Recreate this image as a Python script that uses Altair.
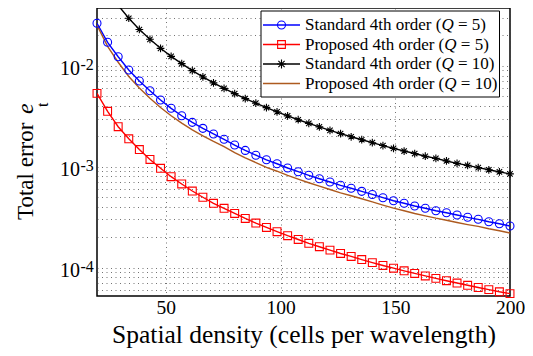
import altair as alt
import pandas as pd

# ---------------- data ----------------
x_vals = [20.00, 24.62, 29.23, 33.85, 38.46, 43.08, 47.69, 52.31, 56.92, 61.54,
          66.15, 70.77, 75.38, 80.00, 84.62, 89.23, 93.85, 98.46, 103.08, 107.69,
          112.31, 116.92, 121.54, 126.15, 130.77, 135.38, 140.00, 144.62, 149.23, 153.85,
          158.46, 163.08, 167.69, 172.31, 176.92, 181.54, 186.15, 190.77, 195.38, 200.00]

std_q5 = [0.0264, 0.0171, 0.0123, 0.00908, 0.00706, 0.00566, 0.00458, 0.00379, 0.00320, 0.00275,
          0.00240, 0.00211, 0.00187, 0.00164, 0.00145, 0.00130, 0.00117, 0.00107, 0.000971, 0.000892,
          0.000822, 0.000760, 0.000705, 0.000654, 0.000611, 0.000570, 0.000531, 0.000493, 0.000460, 0.000434,
          0.000408, 0.000387, 0.000366, 0.000350, 0.000332, 0.000315, 0.000301, 0.000285, 0.000272, 0.000258]

prop_q5 = [0.00533, 0.00354, 0.00249, 0.00189, 0.00148, 0.00118, 0.000964, 0.000796, 0.000674, 0.000574,
           0.000498, 0.000434, 0.000387, 0.000344, 0.000307, 0.000276, 0.000250, 0.000227, 0.000207, 0.000190,
           0.000174, 0.000161, 0.000149, 0.000138, 0.000129, 0.000120, 0.000112, 0.000105, 0.0000987, 0.0000929,
           0.0000876, 0.0000827, 0.0000782, 0.0000741, 0.0000703, 0.0000668, 0.0000635, 0.0000605, 0.0000576, 0.0000552]

std_q10 = [0.0848, 0.0559, 0.0397, 0.0296, 0.0229, 0.0183, 0.0149, 0.0124, 0.0105, 0.00895,
           0.00775, 0.00677, 0.00597, 0.00530, 0.00473, 0.00426, 0.00385, 0.00350, 0.00319, 0.00292,
           0.00269, 0.00248, 0.00229, 0.00213, 0.00198, 0.00185, 0.00173, 0.00162, 0.00152, 0.00143,
           0.00135, 0.00127, 0.00121, 0.00114, 0.00108, 0.00103, 0.000978, 0.000932, 0.000888, 0.000848]

prop_q10 = [0.0252, 0.0156, 0.01085, 0.00783, 0.00602, 0.00477, 0.00386, 0.00320, 0.00270, 0.00232,
            0.00202, 0.00178, 0.00158, 0.00138, 0.00122, 0.00110, 0.000986, 0.000902, 0.000819, 0.000752,
            0.000693, 0.000641, 0.000594, 0.000551, 0.000515, 0.000481, 0.000448, 0.000416, 0.000388, 0.000366,
            0.000344, 0.000326, 0.000309, 0.000295, 0.000280, 0.000267, 0.000256, 0.000243, 0.000232, 0.000220]

series_keys = ["std5", "prop5", "std10", "prop10"]
series_colors = ["#0000FF", "#FF0000", "#000000", "#AD5A1F"]
legend_pre = ["Standard 4th order (", "Proposed 4th order (", "Standard 4th order (", "Proposed 4th order ("]
legend_post = ["= 5)", "= 5)", "= 10)", "= 10)"]

x_tick_values = [50, 100, 150, 200]
y_grid_values = [6e-5, 7e-5, 8e-5, 9e-5,
                 1e-4, 2e-4, 3e-4, 4e-4, 5e-4, 6e-4, 7e-4, 8e-4, 9e-4,
                 1e-3, 2e-3, 3e-3, 4e-3, 5e-3, 6e-3, 7e-3, 8e-3, 9e-3,
                 1e-2, 2e-2, 3e-2]
y_label_values = [1e-2, 1e-3, 1e-4]
y_label_exps = ["-2", "-3", "-4"]

# ---------------- build ----------------
FONT = "Liberation Serif"
Y_MIN, Y_MAX = 5.23e-5, 0.0374
STAR = "M-1,0L1,0M0,-1L0,1M-0.7,-0.7L0.7,0.7M-0.7,0.7L0.7,-0.7"
MARKERS = ["circle", "square", STAR]
MARKER_SIZES = [64, 60, 80]

rows = []
for key, vals in zip(series_keys, [std_q5, prop_q5, std_q10, prop_q10]):
    for xv, yv in zip(x_vals, vals):
        rows.append({"x": xv, "y": yv, "s": key})
df = pd.DataFrame(rows)

grid_kw = dict(grid=True, gridColor="#444444", gridDash=[1, 3.5], gridWidth=1, gridOpacity=0.75)

x_axis = alt.Axis(values=x_tick_values, ticks=False, domain=False, labelFont=FONT,
                  labelFontSize=19.5, labelColor="black", labelPadding=2, labelFlush=False,
                  labelOverlap=False,
                  title="Spatial density (cells per wavelength)", titleFont=FONT,
                  titleFontSize=25.5, titleFontWeight="normal", titleColor="black",
                  titleX=206.5, titleY=46.5, titleBaseline="alphabetic", **grid_kw)
y_axis = alt.Axis(values=y_grid_values, labels=False, ticks=False, domain=False, title="", **grid_kw)

x_scale = alt.Scale(domain=[20, 200], nice=False, zero=False)
y_scale = alt.Scale(type="log", domain=[Y_MIN, Y_MAX], nice=False)
color_scale = alt.Scale(domain=series_keys, range=series_colors)

def xe():
    return alt.X("x:Q", scale=x_scale, axis=x_axis)

def ye(field="y"):
    return alt.Y(f"{field}:Q", scale=y_scale, axis=y_axis)

lines = alt.Chart(df).mark_line(clip=True, strokeWidth=1.4).encode(
    x=xe(), y=ye(),
    color=alt.Color("s:N", scale=color_scale, legend=None),
    detail="s:N")

points = alt.Chart(df).transform_filter(
    f"datum.s != 'prop10' && datum.y <= {Y_MAX}"
).mark_point(filled=False, strokeWidth=1.1, opacity=1).encode(
    x=xe(), y=ye(),
    color=alt.Color("s:N", scale=color_scale, legend=None),
    shape=alt.Shape("s:N", scale=alt.Scale(domain=series_keys[:3], range=MARKERS), legend=None),
    size=alt.Size("s:N", scale=alt.Scale(domain=series_keys[:3], range=MARKER_SIZES), legend=None))

ylab_df = pd.DataFrame({"v": y_label_values, "base": ["10"] * 3, "exp": y_label_exps})
ylab_base = alt.Chart(ylab_df).mark_text(align="right", baseline="alphabetic", dy=9, font=FONT,
                                         fontSize=20, color="black").encode(
    x=alt.value(-17), y=ye("v"), text="base:N")
ylab_exp = alt.Chart(ylab_df).mark_text(align="left", baseline="alphabetic", dy=4, font=FONT,
                                        fontSize=16, color="black").encode(
    x=alt.value(-16.5), y=ye("v"), text="exp:N")

dummy = pd.DataFrame({"d": [0]})

ytitle = [
    alt.Chart(dummy).mark_text(text="Total error", angle=270, align="left", baseline="alphabetic",
                               font=FONT, fontSize=23, color="black").encode(
        x=alt.value(-63.7), y=alt.value(212)),
    alt.Chart(dummy).mark_text(text="e", angle=270, align="left", baseline="alphabetic",
                               font=FONT, fontSize=24, fontStyle="italic", color="black").encode(
        x=alt.value(-63.7), y=alt.value(106)),
    alt.Chart(dummy).mark_text(text="t", angle=270, align="left", baseline="alphabetic",
                               font=FONT, fontSize=16, color="black").encode(
        x=alt.value(-49.5), y=alt.value(99)),
]

# ---------------- manual legend ----------------
W = {'S': 556, 't': 278, 'a': 444, 'n': 500, 'd': 500, 'r': 333, ' ': 250, '4': 500, 'h': 500,
     'o': 500, 'e': 444, '(': 333, ')': 333, '=': 564, '5': 500, '1': 500, '0': 500, 'P': 556,
     'p': 500, 's': 389}

def tw(s, size):
    return sum(W.get(c, 500) for c in s) * size / 1000.0

LFS = 17
row_y = [17, 36.5, 56, 75.5]
legend_layers = [
    alt.Chart(dummy).mark_rect(fill="white", stroke="black", strokeWidth=1).encode(
        x=alt.value(164), x2=alt.value(402.5), y=alt.value(3), y2=alt.value(89))
]
for i, key in enumerate(series_keys):
    ry = row_y[i]
    c = series_colors[i]
    legend_layers.append(alt.Chart(dummy).mark_rule(color=c, strokeWidth=1.4).encode(
        x=alt.value(166), x2=alt.value(203), y=alt.value(ry)))
    if i < 3:
        legend_layers.append(alt.Chart(dummy).mark_point(
            shape=MARKERS[i], filled=False, color=c, size=MARKER_SIZES[i], strokeWidth=1.1,
            opacity=1).encode(x=alt.value(184.5), y=alt.value(ry)))
    x0 = 208
    w1 = tw(legend_pre[i], LFS)
    wq = 0.722 * LFS
    wsp = 0.25 * LFS
    legend_layers.append(alt.Chart(dummy).mark_text(
        text=legend_pre[i], align="left", baseline="middle", font=FONT, fontSize=LFS,
        color="black").encode(x=alt.value(x0), y=alt.value(ry)))
    legend_layers.append(alt.Chart(dummy).mark_text(
        text="Q", align="left", baseline="middle", font=FONT, fontSize=LFS, fontStyle="italic",
        color="black").encode(x=alt.value(x0 + w1), y=alt.value(ry)))
    legend_layers.append(alt.Chart(dummy).mark_text(
        text=legend_post[i], align="left", baseline="middle", font=FONT, fontSize=LFS,
        color="black").encode(x=alt.value(x0 + w1 + wq + wsp), y=alt.value(ry)))

chart = alt.layer(lines, points, ylab_base, ylab_exp, *ytitle, *legend_layers).properties(
    width=413, height=288,
    padding={"left": 89, "top": 0, "right": 15, "bottom": 52},
    autosize=alt.AutoSizeParams(type="none"),
).configure_view(stroke="black", strokeWidth=1.5)

chart.save("out.html", embed_options={"renderer": "svg", "actions": False})
